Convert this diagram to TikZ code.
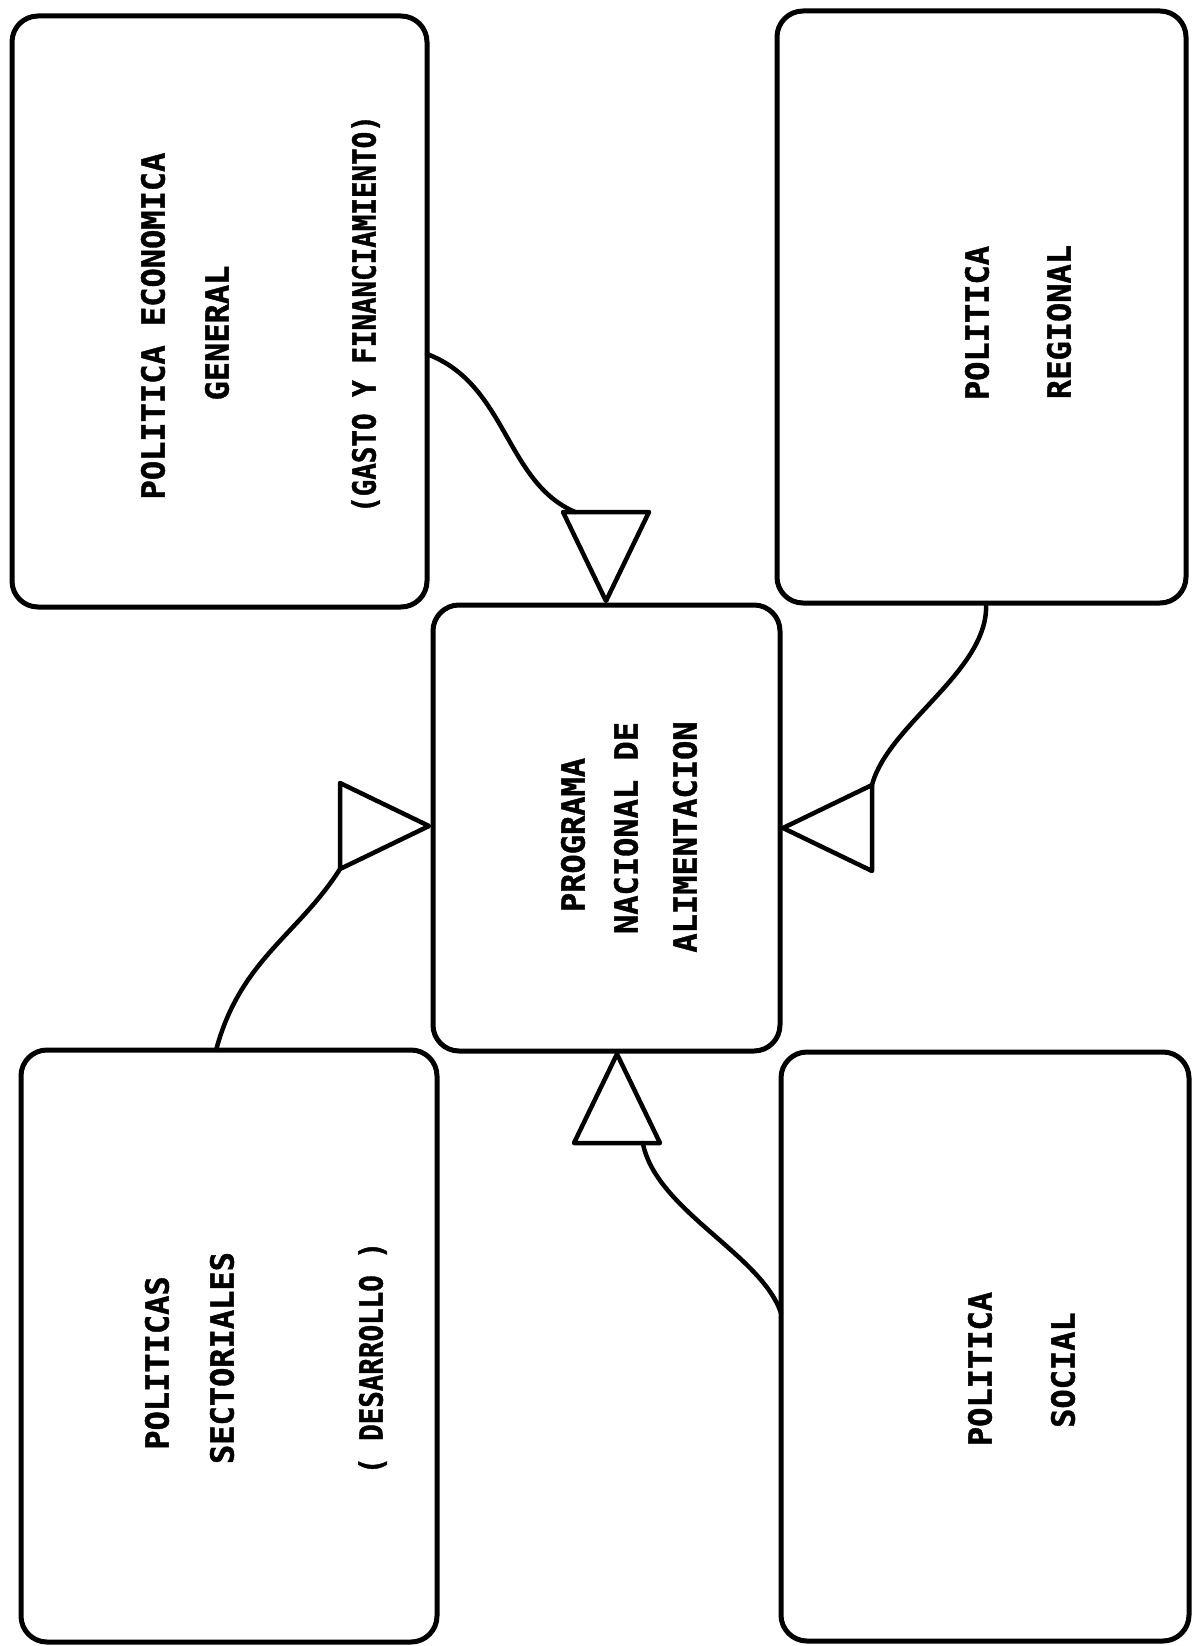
\documentclass[tikz,border=0pt]{standalone}
\usepackage{fontspec}
\newfontfamily\labelfont[BoldFeatures={FakeBold=1.2}]{DejaVu Sans Mono}
\newfontfamily\notefont[FakeStretch=0.86, BoldFeatures={FakeBold=1.2}]{DejaVu Sans Mono}
\usetikzlibrary{shapes.geometric,calc}
\begin{document}
\begin{tikzpicture}[x=1pt,y=-1pt,
  panel/.style={draw, line width=5pt, rounded corners=26pt, inner sep=0pt, outer sep=0pt},
  arrowhead/.style={draw, line width=4.5pt, isosceles triangle, isosceles triangle stretches,
    minimum width=86pt, minimum height=89pt, inner sep=0pt, outer sep=0pt, line join=round},
  link/.style={line width=4.5pt, line cap=round},
  caption/.style={rotate=90, inner sep=0pt, text height=23.3pt, text depth=0pt,
    font=\labelfont\bfseries\fontsize{32pt}{38pt}\selectfont},
  note/.style={caption, font=\notefont\bfseries\fontsize{32pt}{38pt}\selectfont}
]
\useasboundingbox (0,0) rectangle (1192,1646);

% the five policy panels
\node[panel, minimum width=415pt, minimum height=591pt] (econ)     at (219.5,311.5) {};
\node[panel, minimum width=409pt, minimum height=592pt] (regional) at (981.5,307)   {};
\node[panel, minimum width=347pt, minimum height=446pt] (centre)   at (606.5,828)   {};
\node[panel, minimum width=416pt, minimum height=592pt] (sector)   at (229,1346)    {};
\node[panel, minimum width=408pt, minimum height=589pt] (social)   at (985,1346.5)  {};

% triangular markers pointing at the central programme
\node[arrowhead, rotate=-90, anchor=apex] (t1) at (606,601)  {};
\node[arrowhead, anchor=apex]             (t2) at (429,826)  {};
\node[arrowhead, rotate=180, anchor=apex] (t3) at (783,828)  {};
\node[arrowhead, rotate=90, anchor=apex]  (t4) at (617,1054) {};

% panel texts, set vertically
\node[caption] (econA) at (153,326)  {POLITICA ECONOMICA};
\node[caption] (econB) at (217,333)  {GENERAL};
\node[note]    (econC) at (364,314)  {(GASTO Y FINANCIAMIENTO)};
\node[caption] (regA)  at (977,323)  {POLITICA};
\node[caption] (regB)  at (1059,322) {REGIONAL};
\node[caption] (progA) at (573,835)  {PROGRAMA};
\node[caption] (progB) at (626,828)  {NACIONAL DE};
\node[caption] (progC) at (685,837)  {ALIMENTACION};
\node[caption] (secA)  at (157,1363) {POLITICAS};
\node[caption] (secB)  at (222,1358) {SECTORIALES};
\node[note]    (secC)  at (371,1358) {( DESARROLLO )};
\node[caption] (socA)  at (980,1369) {POLITICA};
\node[caption] (socB)  at (1063,1370) {SOCIAL};

% curved links from each panel to its marker
\draw[link] ($(econ.north east)!0.572!(econ.south east)$)
  .. controls +(80,30) and +(-70,-30) .. ($(t1.right corner)!0.14!(t1.left corner)$);
\draw[link] ($(sector.north west)!0.469!(sector.north east)$)
  .. controls +(24,-90) and +(-42,66) .. (t2.right corner);
\draw[link] ($(regional.south west)!0.511!(regional.south east)$)
  .. controls +(4,67) and +(16,-61) .. (t3.right corner);
\draw[link] ($(social.north west)!0.443!(social.south west)$)
  .. controls +(-20,-59) and +(13,67) .. ($(t4.right corner)!0.2!(t4.left corner)$);
\end{tikzpicture}
\end{document}
